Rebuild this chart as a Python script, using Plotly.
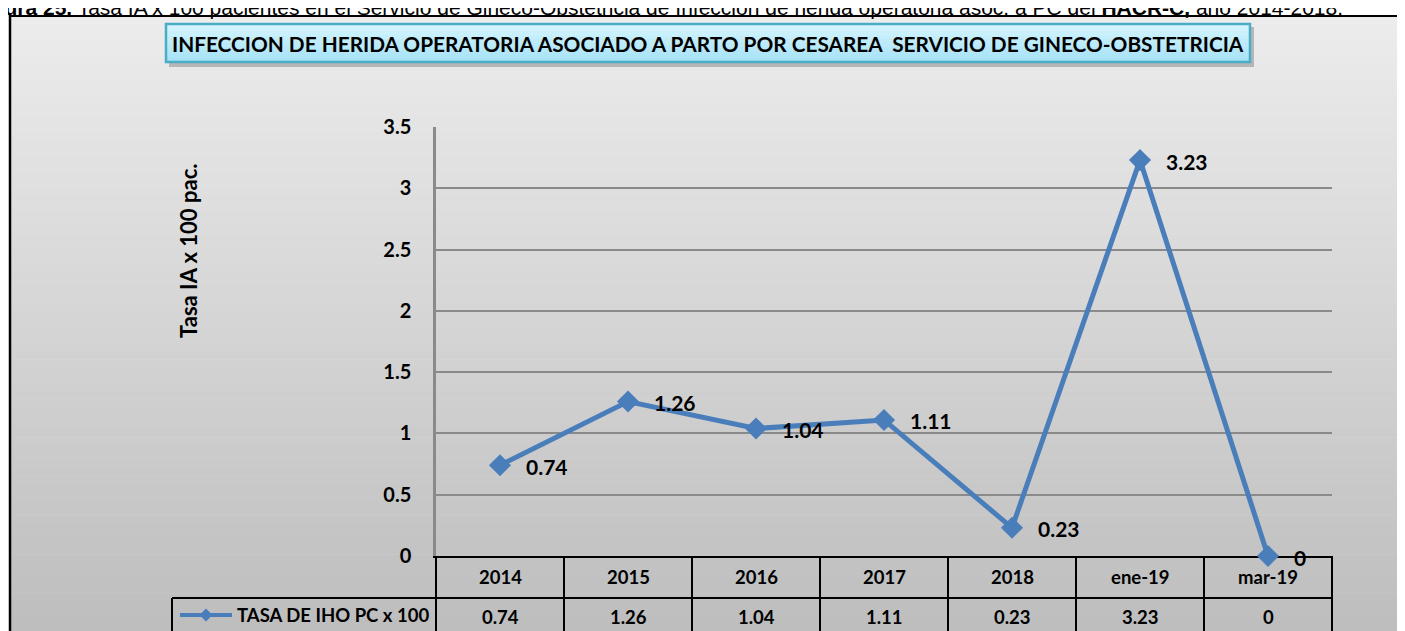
import plotly.graph_objects as go

# ---------------- data ----------------
categories = ["2014", "2015", "2016", "2017", "2018", "ene-19", "mar-19"]
values = [0.74, 1.26, 1.04, 1.11, 0.23, 3.23, 0]
y_tickvals = [0, 0.5, 1, 1.5, 2, 2.5, 3, 3.5]
series_name = "TASA DE IHO PC x 100"
chart_title = "INFECCION DE HERIDA OPERATORIA ASOCIADO A PARTO POR CESAREA\u00a0 SERVICIO DE GINECO-OBSTETRICIA"
y_title = "Tasa IA x 100 pac."
caption = ("<b>Figura 25.</b> Tasa IA x 100 pacientes en el Servicio de Gineco-Obstetricia de "
           "Infección de herida operatoria asoc. a PC del <b>HACR-C,</b> año 2014-2018.")

# ---------------- layout helpers ----------------
OFF = 8  # page offset of the figure div (body margin)
W, H = 1405 - OFF, 631 - OFF
def px(x):
    return (x - OFF) / W
def py(y):
    return 1 - (y - OFF) / H

BLUE = "#4a7ebb"
FONT = "Lato"
PLOT_L, PLOT_R, PLOT_T, PLOT_B = 436, 1332, 127, 556
COL_W = (PLOT_R - PLOT_L) / len(categories)
BORDER_TOP = 16

shapes = []
# background gradient of chart area
n = 80
top, bot = BORDER_TOP, 640
for i in range(n):
    y0 = top + (bot - top) * i / n
    y1 = top + (bot - top) * (i + 1) / n + 0.6
    t = i / (n - 1)
    c = int(round(236 - t * 47))
    shapes.append(dict(type="rect", xref="paper", yref="paper", layer="below",
                       x0=px(10), x1=px(1410), y0=py(y1), y1=py(y0),
                       line=dict(width=0), fillcolor=f"rgb({c},{c},{c})"))
# outer border
shapes.append(dict(type="line", xref="paper", yref="paper", x0=px(10), x1=px(10),
                   y0=py(BORDER_TOP - 1), y1=py(640), line=dict(color="black", width=2.5)))
shapes.append(dict(type="line", xref="paper", yref="paper", x0=px(9), x1=px(1410),
                   y0=py(BORDER_TOP), y1=py(BORDER_TOP), line=dict(color="black", width=2)))

# title box: shadow, gradient fill, border
shapes.append(dict(type="rect", xref="paper", yref="paper", x0=px(169), x1=px(1254),
                   y0=py(67), y1=py(27), line=dict(width=0), fillcolor="rgba(90,90,90,0.35)"))
nb = 10
for i in range(nb):
    y0 = 24 + 38 * i / nb
    y1 = 24 + 38 * (i + 1) / nb + 0.5
    t = i / (nb - 1)
    r = int(round(212 - t * 45)); g = int(round(244 - t * 18)); b = int(round(253 - t * 6))
    shapes.append(dict(type="rect", xref="paper", yref="paper", x0=px(166), x1=px(1250),
                       y0=py(y1), y1=py(y0), line=dict(width=0), fillcolor=f"rgb({r},{g},{b})"))
shapes.append(dict(type="rect", xref="paper", yref="paper", x0=px(166), x1=px(1250),
                   y0=py(62), y1=py(24), line=dict(color="#4bacc6", width=2.5), fillcolor="rgba(0,0,0,0)"))

# data table grid
for i in range(len(categories) + 1):
    xx = PLOT_L + i * COL_W
    shapes.append(dict(type="line", xref="paper", yref="paper", x0=px(xx), x1=px(xx),
                       y0=py(556), y1=py(640), line=dict(color="black", width=2)))
shapes.append(dict(type="line", xref="paper", yref="paper", x0=px(172), x1=px(PLOT_R),
                   y0=py(598), y1=py(598), line=dict(color="black", width=2)))
shapes.append(dict(type="line", xref="paper", yref="paper", x0=px(172), x1=px(172),
                   y0=py(598), y1=py(640), line=dict(color="black", width=2)))
# legend key in table
shapes.append(dict(type="line", xref="paper", yref="paper", x0=px(180), x1=px(232),
                   y0=py(615), y1=py(615), line=dict(color=BLUE, width=4)))
cx, cy, d = 206, 615, 6.5
shapes.append(dict(type="path", xref="paper", yref="paper",
                   path=f"M {px(cx-d)} {py(cy)} L {px(cx)} {py(cy-d)} L {px(cx+d)} {py(cy)} L {px(cx)} {py(cy+d)} Z",
                   line=dict(width=0), fillcolor=BLUE))

annotations = []
# caption (its upper half is cut by the top edge, as in the source)
annotations.append(dict(xref="paper", yref="paper", x=0, y=1, xanchor="left", yanchor="middle",
                        xshift=-37, yshift=1, showarrow=False, text=caption,
                        font=dict(family="Liberation Sans, Arial", size=21, color="black")))
# chart title
annotations.append(dict(xref="paper", yref="paper", x=px(708), y=py(43), xanchor="center",
                        yanchor="middle", showarrow=False, text=f"<b>{chart_title}</b>",
                        font=dict(family=FONT, size=20.8, color="black")))
# y title
annotations.append(dict(xref="paper", yref="paper", x=px(188), y=py(251), xanchor="center",
                        yanchor="middle", showarrow=False, textangle=-90, text=f"<b>{y_title}</b>",
                        font=dict(family=FONT, size=22, color="black")))
# data labels
for i, v in enumerate(values):
    annotations.append(dict(xref="x", yref="y", x=i, y=v, xanchor="left", yanchor="middle",
                            xshift=24, yshift=-1, showarrow=False, text=f"<b>{v:g}</b>",
                            font=dict(family=FONT, size=21, color="black")))
# table texts
for i, (c, v) in enumerate(zip(categories, values)):
    annotations.append(dict(xref="x", yref="paper", x=i, y=py(577), xanchor="center", yanchor="middle",
                            showarrow=False, text=f"<b>{c}</b>",
                            font=dict(family=FONT, size=18.5, color="black")))
    annotations.append(dict(xref="x", yref="paper", x=i, y=py(617), xanchor="center", yanchor="middle",
                            showarrow=False, text=f"<b>{v:g}</b>",
                            font=dict(family=FONT, size=18.5, color="black")))
annotations.append(dict(xref="paper", yref="paper", x=px(235), y=py(615), xanchor="left", yanchor="middle",
                        showarrow=False, text=f"<b>{series_name}</b>",
                        font=dict(family=FONT, size=18.5, color="black")))

fig = go.Figure()
fig.add_trace(go.Scatter(x=categories, y=values, mode="lines+markers", name=series_name,
                         line=dict(color=BLUE, width=5),
                         marker=dict(symbol="diamond", size=17, color=BLUE),
                         cliponaxis=False, showlegend=False))

fig.update_layout(
    width=W, height=H, margin=dict(l=0, r=0, t=0, b=0, autoexpand=False),
    paper_bgcolor="white", plot_bgcolor="white",
    shapes=shapes, annotations=annotations, showlegend=False,
    xaxis=dict(domain=[px(PLOT_L), px(PLOT_R)], type="category", range=[-0.5, len(categories) - 0.5],
               showgrid=False, zeroline=False, showticklabels=False, showline=True, automargin=False,
               linecolor="black", linewidth=2, layer="below traces", fixedrange=True),
    yaxis=dict(domain=[py(PLOT_B), py(PLOT_T)], range=[0, 3.5], tickvals=y_tickvals,
               ticktext=[f"{t:g}" for t in y_tickvals], automargin=False,
               showgrid=True, gridcolor="#8a8a8a", gridwidth=1.5, zeroline=False,
               showline=True, linecolor="#8a8a8a", linewidth=2.5, ticks="",
               ticklabelstandoff=18, layer="below traces",
               tickfont=dict(family=FONT, size=20, color="black", weight="bold"), fixedrange=True),
)

fig.write_html("out.html")
